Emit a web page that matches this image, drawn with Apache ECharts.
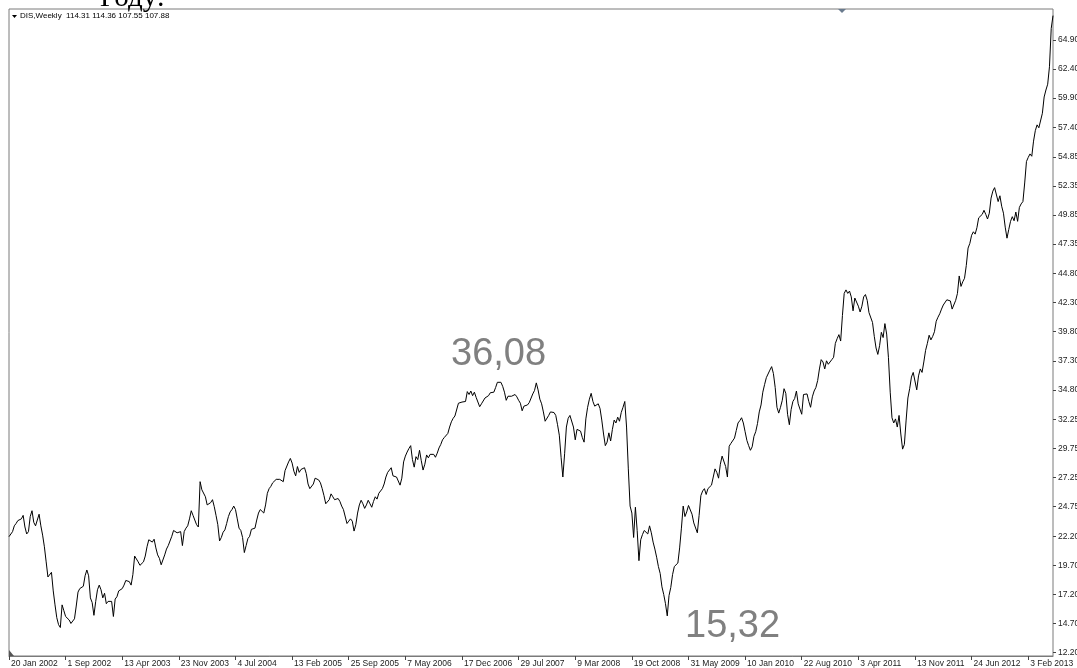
<!DOCTYPE html>
<html>
<head>
<meta charset="utf-8">
<script src="https://cdn.jsdelivr.net/npm/echarts@6.0.0/dist/echarts.min.js"></script>
<style>
html, body { margin: 0; padding: 0; background: #fff; }
#chart { width: 1077px; height: 668px; }
</style>
</head>
<body>
<div id="chart"></div>
<script>
// DIS weekly closes, one array per calendar year (weeks from 20 Jan 2002)
const close2002 = [22.17, 22.1, 22.6, 23.1, 23.3, 23.55, 23.45, 23.7, 24.0, 23.0,
  22.4, 22.6, 23.9, 24.4, 23.4, 23.1, 23.6, 24.1, 23.1, 22.3,
  21.3, 20.0, 18.7, 18.6, 19.1, 17.5, 16.3, 15.2, 14.6, 14.35,
  16.3, 15.8, 15.3, 15.15, 15.0, 14.7, 14.75, 15.1, 16.2, 17.4,
  17.7, 17.6, 17.9, 18.8, 19.3, 18.8, 16.9, 16.5, 15.4, 16.6];
const close2003 = [17.6, 18.0, 17.6, 16.9, 17.3, 16.4, 16.6, 16.7, 16.6, 15.3,
  16.8, 17.0, 17.5, 17.5, 17.7, 18.0, 18.4, 18.5, 18.3, 18.0,
  18.9, 20.5, 20.4, 20.0, 19.7, 19.8, 20.0, 20.5, 21.3, 21.9,
  22.05, 21.7, 21.95, 21.2, 20.6, 20.3, 19.75, 19.8, 20.6, 21.1,
  21.4, 21.5, 22.2, 22.7, 22.7, 22.5, 22.5, 22.6, 21.4, 22.6,
  22.9, 23.1];
const close2004 = [23.7, 24.4, 24.0, 23.6, 23.2, 23.0, 26.9, 26.2, 26.3, 25.6,
  24.9, 24.75, 25.1, 25.35, 24.75, 24.0, 23.2, 21.8, 22.1, 22.55,
  22.75, 23.3, 23.9, 24.3, 24.5, 24.8, 24.5, 23.7, 22.9, 22.7,
  22.1, 20.8, 21.4, 22.0, 22.2, 22.8, 22.85, 22.9, 23.6, 24.2,
  24.5, 24.5, 24.2, 24.9, 25.9, 26.3, 26.5, 26.8, 26.95, 27.1,
  27.1, 27.1];
const close2005 = [27.15, 26.9, 27.85, 28.0, 28.6, 28.9, 28.5, 27.8, 27.4, 28.2,
  27.7, 27.95, 27.8, 28.1, 27.6, 26.7, 26.3, 26.45, 26.7, 27.2,
  27.3, 27.05, 26.8, 26.3, 25.7, 25.0, 24.9, 25.35, 25.85, 25.6,
  25.35, 25.2, 25.45, 25.2, 24.8, 24.5, 24.6, 23.3, 23.5, 23.7,
  23.5, 22.65, 23.2, 24.2, 24.9, 25.3, 25.0, 24.6, 24.9, 25.3,
  25.0, 24.7];
const close2006 = [25.2, 25.6, 25.4, 25.9, 26.0, 26.3, 26.7, 27.3, 27.7, 27.8,
  28.1, 27.4, 27.25, 27.3, 27.25, 26.6, 27.2, 28.6, 29.1, 29.45,
  29.75, 30.0, 28.8, 28.15, 29.05, 28.8, 29.6, 28.7, 27.9, 28.4,
  29.2, 28.95, 29.25, 29.4, 29.25, 29.0, 29.35, 29.8, 30.1, 30.5,
  30.7, 30.7, 31.05, 31.6, 32.05, 32.35, 32.55, 32.65, 33.65, 33.7,
  33.75, 33.8, 33.8];
const close2007 = [34.65, 34.4, 34.7, 34.3, 34.6, 34.15, 34.05, 33.35, 33.6, 33.6,
  34.1, 34.2, 34.3, 34.55, 34.65, 34.6, 35.0, 35.45, 35.55, 35.45,
  35.1, 34.6, 33.9, 34.25, 34.35, 34.25, 34.3, 34.4, 34.2, 33.9,
  33.65, 33.0, 33.4, 33.45, 33.5, 33.7, 33.6, 34.45, 34.75, 35.4,
  34.8, 34.0, 33.6, 32.9, 32.1, 31.95, 32.6, 32.9, 32.9, 32.85,
  32.6, 31.8];
const close2008 = [30.9, 29.0, 27.3, 29.3, 31.6, 32.35, 32.6, 32.6, 31.6, 30.5,
  31.4, 31.3, 31.25, 30.7, 30.3, 32.3, 33.3, 34.0, 34.5, 33.8,
  33.4, 33.35, 33.6, 33.2, 32.2, 31.0, 30.0, 30.3, 31.1, 30.4,
  31.4, 32.2, 31.95, 32.45, 32.1, 32.85, 33.3, 33.8, 31.6, 28.0,
  24.8, 24.2, 22.1, 24.7, 22.7, 20.1, 21.9, 22.35, 22.7, 22.75,
  22.4, 23.1];
const close2009 = [22.5, 21.7, 21.1, 20.4, 19.6, 19.0, 17.85, 17.2, 16.4, 15.35,
  17.1, 17.8, 18.9, 19.6, 19.7, 19.9, 21.2, 22.9, 24.8, 23.9,
  24.3, 24.85, 24.7, 24.1, 23.35, 23.3, 22.5, 24.0, 25.7, 26.1,
  26.3, 25.8, 26.3, 26.3, 26.6, 27.3, 28.0, 27.7, 27.2, 28.4,
  29.1, 29.2, 28.2, 27.3, 29.95, 30.2, 30.2, 30.65, 31.3, 31.95,
  32.15, 32.4];
const close2010 = [31.95, 31.2, 30.45, 30.0, 29.6, 29.9, 30.8, 31.2, 31.9, 32.9,
  33.5, 34.6, 35.25, 35.85, 35.85, 36.5, 36.8, 36.2, 35.0, 33.3,
  32.8, 33.3, 33.9, 34.9, 34.5, 32.7, 31.8, 33.1, 33.8, 34.05,
  34.7, 33.6, 33.15, 32.7, 34.4, 34.5, 34.45, 33.8, 33.3, 34.2,
  34.7, 35.0, 35.6, 36.6, 37.4, 37.2, 36.6, 37.3, 37.0, 37.1,
  37.4, 37.6];
const close2011 = [38.8, 39.2, 39.55, 39.0, 41.2, 43.1, 43.4, 43.1, 43.3, 42.8,
  41.6, 42.7, 42.6, 42.0, 41.5, 42.0, 42.8, 43.0, 42.5, 41.45,
  41.4, 40.6, 39.4, 38.4, 37.85, 38.6, 39.75, 39.3, 40.5, 39.6,
  37.6, 34.6, 32.4, 31.95, 32.3, 31.6, 32.6, 31.0, 29.7, 30.1,
  32.2, 34.1, 34.9, 35.9, 36.3, 36.3, 34.8, 36.0, 36.6, 36.3,
  37.2, 38.2];
const close2012 = [38.8, 39.5, 39.1, 39.4, 39.8, 40.7, 41.05, 41.35, 41.75, 42.1,
  41.95, 42.55, 42.7, 42.45, 41.75, 41.7, 42.5, 43.1, 44.6, 43.7,
  44.1, 44.4, 45.5, 47.0, 47.4, 48.1, 48.4, 48.2, 48.75, 49.6,
  49.75, 49.9, 50.25, 49.9, 49.5, 50.0, 51.3, 51.9, 52.2, 52.1,
  51.0, 51.5, 50.6, 50.0, 48.8, 47.85, 48.6, 49.3, 49.7, 49.35,
  50.1, 49.3, 50.5];
const close2013 = [50.8, 51.0, 52.6, 54.45, 54.8, 55.1, 54.9, 56.2, 57.1, 57.6,
  57.35, 57.5, 58.6, 60.0, 60.6, 61.1, 62.6, 65.9, 67.0];

const yTickValues = [12.20, 14.70, 17.20, 19.70, 22.20, 24.75, 27.25, 29.75, 32.25, 34.80, 37.30,
  39.80, 42.30, 44.80, 47.35, 49.85, 52.35, 54.85, 57.40, 59.90, 62.40, 64.90];

const closes = [].concat(close2002, close2003, close2004, close2005, close2006, close2007,
  close2008, close2009, close2010, close2011, close2012, close2013);

// weekly dates from 20 Jan 2002, labelled like MT4 ("1 Sep 2002")
const MONTHS = ['Jan', 'Feb', 'Mar', 'Apr', 'May', 'Jun', 'Jul', 'Aug', 'Sep', 'Oct', 'Nov', 'Dec'];
const start = Date.UTC(2002, 0, 20);
const weeks = closes.map((_, i) => {
  const d = new Date(start + i * 7 * 86400000);
  return d.getUTCDate() + ' ' + MONTHS[d.getUTCMonth()] + ' ' + d.getUTCFullYear();
});
const LABEL_EVERY = 32;

const labelFont = 'Tahoma, "Liberation Sans", sans-serif';
const chart = echarts.init(document.getElementById('chart'));
chart.setOption({
  animation: false,
  backgroundColor: '#ffffff',
  grid: {
    left: 9, top: 9, width: 1044, height: 647,
    outerBoundsMode: 'none',
    containLabel: false,
    show: true, borderColor: '#7a7a7a', borderWidth: 1, backgroundColor: '#ffffff'
  },
  xAxis: {
    type: 'category',
    data: weeks,
    boundaryGap: false,
    axisLine: { show: true, lineStyle: { color: '#7a7a7a', width: 1 } },
    axisTick: {
      show: true,
      interval: (i) => i % LABEL_EVERY === 0,
      length: 4,
      lineStyle: { color: '#444' }
    },
    axisLabel: {
      interval: (i) => i % LABEL_EVERY === 0,
      hideOverlap: false,
      align: 'left',
      margin: 3,
      padding: [0, 0, 0, 2],
      fontSize: 8.5,
      fontFamily: labelFont,
      color: '#222'
    },
    splitLine: { show: false }
  },
  yAxis: {
    type: 'value',
    position: 'right',
    min: 11.9,
    max: 67.57,
    axisLine: { show: false },
    axisTick: {
      show: true,
      customValues: yTickValues,
      length: 3,
      lineStyle: { color: '#444' }
    },
    axisLabel: {
      customValues: yTickValues,
      formatter: (v) => v.toFixed(2),
      margin: 5,
      fontSize: 8.5,
      fontFamily: labelFont,
      color: '#222'
    },
    splitLine: { show: false }
  },
  series: [{
    type: 'line',
    data: closes,
    symbol: 'none',
    silent: true,
    lineStyle: { color: '#000000', width: 1 }
  }],
  graphic: [
    // partly cut-off heading from the surrounding page
    {
      type: 'text', left: 100, top: -16, silent: true,
      style: { text: 'Году:', font: '29px "Liberation Serif", "DejaVu Serif", serif', fill: '#000' }
    },
    // symbol / period header
    {
      type: 'polygon', silent: true,
      shape: { points: [[12, 15], [17, 15], [14.5, 18]] },
      style: { fill: '#000' }
    },
    {
      type: 'text', left: 20, top: 12, silent: true,
      style: { text: 'DIS,Weekly  114.31 114.36 107.55 107.88', font: '8px Tahoma, "Liberation Sans", sans-serif', fill: '#000' }
    },
    // shift markers
    {
      type: 'polygon', silent: true,
      shape: { points: [[838, 9], [846, 9], [842, 13]] },
      style: { fill: '#6a7b8e' }
    },
    {
      type: 'polygon', silent: true,
      shape: { points: [[9, 650], [9, 656], [14, 656]] },
      style: { fill: '#555' }
    },
    // high / low notes
    {
      type: 'text', left: 451, top: 336, silent: true,
      style: { text: '36,08', font: '38px "Liberation Sans", Arial, sans-serif', fill: '#808080' }
    },
    {
      type: 'text', left: 685, top: 608, silent: true,
      style: { text: '15,32', font: '38px "Liberation Sans", Arial, sans-serif', fill: '#808080' }
    }
  ]
});
</script>
</body>
</html>
